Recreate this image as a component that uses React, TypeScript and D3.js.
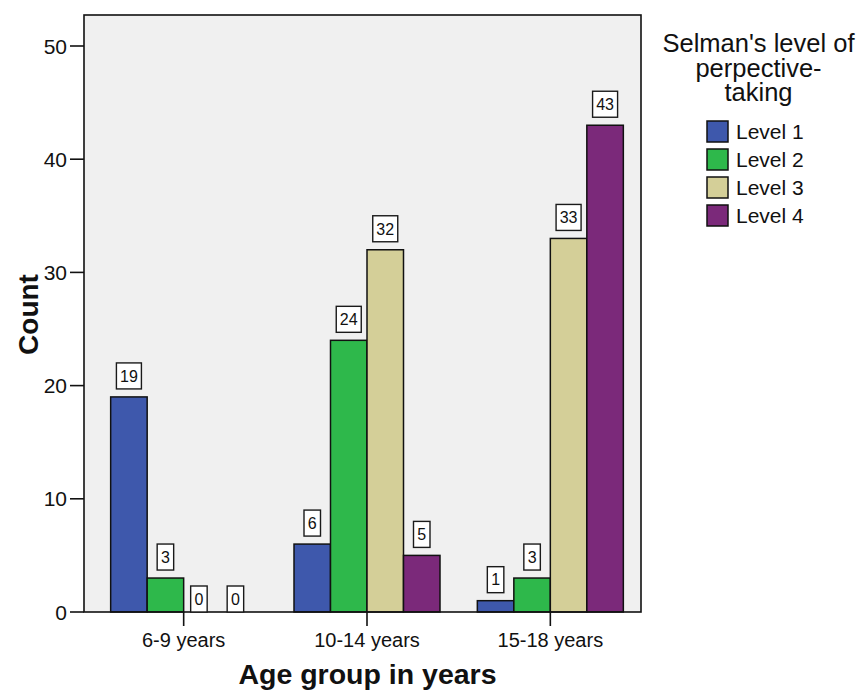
import React from "react";
import * as d3 from "d3";

const ageGroups = ["6-9 years", "10-14 years", "15-18 years"];
const levels = ["Level 1", "Level 2", "Level 3", "Level 4"];
const level1 = [19, 6, 1];
const level2 = [3, 24, 3];
const level3 = [0, 32, 33];
const level4 = [0, 5, 43];
const yTicks = [0, 10, 20, 30, 40, 50];
const levelColors = ["#3e58ac", "#2eb84b", "#d4cf98", "#7b297a"];
const legendTitle = ["Selman's level of", "perpective-", "taking"];

const W = 860;
const H = 691;
const FONT = "'Liberation Sans', Arial, sans-serif";

export default function App() {
  const plotLeft = 84;
  const plotRight = 641;
  const plotTop = 15;
  const plotBottom = 612;

  const y = d3.scaleLinear().domain([0, 50]).range([plotBottom, 46]);
  const x = d3.scaleBand<string>().domain(ageGroups).range([92, 642]).padding(0);
  const sub = d3.scaleBand<string>().domain(levels).range([-73, 73]).padding(0);

  const series = [level1, level2, level3, level4];
  const bars = ageGroups.flatMap((g, gi) =>
    levels.map((lv, li) => ({
      g,
      lv,
      li,
      value: series[li][gi],
      x0: (x(g) ?? 0) + x.bandwidth() / 2 + (sub(lv) ?? 0),
    }))
  );

  return (
    <svg width={W} height={H} style={{ display: "block", position: "absolute", left: 0, top: 0 }} fontFamily={FONT}>
      <rect x={0} y={0} width={W} height={H} fill="#ffffff" />
      {/* plot background */}
      <rect x={plotLeft} y={plotTop} width={plotRight - plotLeft} height={plotBottom - plotTop} fill="#f0f0f0" />

      {/* bars */}
      {bars
        .filter((b) => b.value > 0)
        .map((b) => (
          <rect
            key={b.g + b.lv}
            x={b.x0}
            y={y(b.value)}
            width={sub.bandwidth()}
            height={y(0) - y(b.value)}
            fill={levelColors[b.li]}
            stroke="#111"
            strokeWidth={1.5}
          />
        ))}

      {/* frame */}
      <rect x={plotLeft} y={plotTop} width={plotRight - plotLeft} height={plotBottom - plotTop} fill="none" stroke="#111" strokeWidth={1.6} />

      {/* value labels */}
      {bars.map((b) => {
        const label = String(b.value);
        const bw = 8.5 * label.length + 8;
        const bh = 26;
        const cx = b.x0 + sub.bandwidth() / 2 - (b.value === 0 ? 3 : 0);
        const bottom = b.value === 0 ? y(0) : y(b.value) - 8;
        return (
          <g key={"l" + b.g + b.lv}>
            <rect x={cx - bw / 2} y={bottom - bh} width={bw} height={bh} fill="#ffffff" stroke="#1a1a1a" strokeWidth={1.4} />
            <text x={cx} y={bottom - bh / 2 + 5.8} textAnchor="middle" fontSize={16} fill="#111">
              {label}
            </text>
          </g>
        );
      })}

      {/* y axis ticks */}
      {yTicks.map((t) => (
        <g key={"yt" + t}>
          <line x1={plotLeft - 14} x2={plotLeft} y1={y(t)} y2={y(t)} stroke="#111" strokeWidth={1.6} />
          <text x={plotLeft - 17} y={y(t) + 7.5} textAnchor="end" fontSize={21} fill="#111">
            {t}
          </text>
        </g>
      ))}

      {/* x axis ticks */}
      {ageGroups.map((g) => {
        const cx = (x(g) ?? 0) + x.bandwidth() / 2;
        return (
          <g key={"xt" + g}>
            <line x1={cx} x2={cx} y1={plotBottom} y2={plotBottom + 14} stroke="#111" strokeWidth={1.6} />
            <text x={cx} y={647} textAnchor="middle" fontSize={20} fill="#111">
              {g}
            </text>
          </g>
        );
      })}

      {/* axis titles */}
      <text
        transform={`translate(38, ${(plotTop + plotBottom) / 2 + 1}) rotate(-90)`}
        textAnchor="middle"
        fontSize={28}
        fontWeight="bold"
        fill="#111"
      >
        Count
      </text>
      <text x={367.5} y={684} textAnchor="middle" fontSize={28.5} fontWeight="bold" fill="#111">
        Age group in years
      </text>

      {/* legend */}
      {legendTitle.map((line, i) => (
        <text key={"lt" + i} x={758.5} y={52 + i * 24.5} textAnchor="middle" fontSize={25.5} fill="#111">
          {line}
        </text>
      ))}
      {levels.map((lv, i) => (
        <g key={"lg" + lv}>
          <rect x={707} y={121 + i * 28} width={21} height={21} fill={levelColors[i]} stroke="#111" strokeWidth={1.5} />
          <text x={736} y={139 + i * 28} fontSize={21} fill="#111">
            {lv}
          </text>
        </g>
      ))}
    </svg>
  );
}
